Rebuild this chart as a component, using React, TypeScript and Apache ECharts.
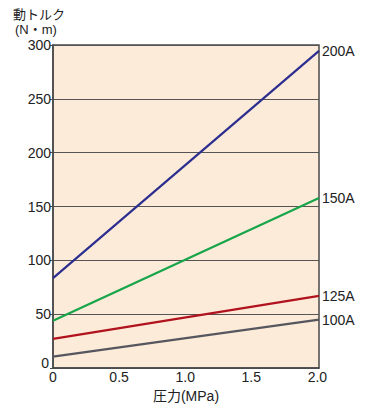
import React, { useEffect, useRef } from "react";
import * as echarts from "echarts";

const pressure = [0, 2.012];
const seriesNames = ["200A", "150A", "125A", "100A"];
const torque200A = [83.5, 294.5];
const torque150A = [44, 158];
const torque125A = [27, 67];
const torque100A = [10.5, 45];
const seriesColors = ["#2b2e8e", "#17a54a", "#b0131d", "#56565e"];
const yTicks = [0, 50, 100, 150, 200, 250, 300];
const xTickLabels = ["0", "0.5", "1.0", "1.5", "2.0"];

const FONT = "'Liberation Sans', 'Noto Sans CJK JP', sans-serif";

export default function App() {
  const ref = useRef<HTMLDivElement>(null);
  useEffect(() => {
    if (!ref.current) return;
    const chart = echarts.init(ref.current, undefined, { renderer: "svg" });
    const values = [torque200A, torque150A, torque125A, torque100A];
    chart.setOption({
      animation: false,
      grid: {
        left: 53,
        top: 45,
        right: 50,
        bottom: 43,
        show: true,
        backgroundColor: "#fdebda",
        borderColor: "#4a4a4a",
        borderWidth: 1.5,
      },
      xAxis: {
        type: "value",
        min: 0,
        max: 2.012,
        interval: 0.5,
        name: "圧力(MPa)",
        nameLocation: "middle",
        nameGap: 13,
        nameTextStyle: { fontFamily: FONT, fontSize: 14, color: "#222" },
        axisLine: { show: true, lineStyle: { color: "#4a4a4a", width: 1.5 } },
        axisTick: { show: false },
        splitLine: { show: false },
        axisLabel: {
          margin: 2,
          fontFamily: FONT,
          fontSize: 14,
          color: "#222",
          formatter: (v: number) => {
            const idx = Math.round(v / 0.5);
            if (Math.abs(v - idx * 0.5) > 1e-6) return "";
            return xTickLabels[idx] ?? "";
          },
        },
      },
      yAxis: {
        type: "value",
        min: yTicks[0],
        max: yTicks[yTicks.length - 1],
        interval: 50,
        axisLine: { show: true, lineStyle: { color: "#4a4a4a", width: 1.5 } },
        axisTick: { show: true, length: 3, lineStyle: { color: "#4a4a4a" } },
        splitLine: { show: true, lineStyle: { color: "#555", width: 1.2 } },
        axisLabel: {
          margin: 2,
          fontFamily: FONT,
          fontSize: 14,
          color: "#222",
          formatter: (v: number) => (v === 0 ? "{z|0}" : String(v)),
          rich: {
            z: { fontFamily: FONT, fontSize: 14, color: "#222", padding: [0, 2, 10, 0] },
          },
        },
      },
      graphic: [
        {
          type: "text",
          left: 13,
          top: 8,
          style: {
            text: "動トルク",
            fontFamily: FONT,
            fontSize: 13,
            fill: "#222",
          },
        },
        {
          type: "text",
          left: 15,
          top: 23,
          style: {
            text: "(N・m)",
            fontFamily: FONT,
            fontSize: 13,
            fill: "#222",
          },
        },
      ],
      series: seriesNames.map((name, i) => ({
        type: "line",
        name,
        data: pressure.map((p, j) => [p, values[i][j]]),
        showSymbol: false,
        lineStyle: { color: seriesColors[i], width: 2.2 },
        itemStyle: { color: seriesColors[i] },
        endLabel: {
          show: true,
          formatter: name,
          distance: 3,
          fontFamily: FONT,
          fontSize: 14,
          color: "#222",
        },
      })),
    });
    return () => chart.dispose();
  }, []);
  return <div ref={ref} style={{ width: 369, height: 411, position: "absolute", left: 0, top: 0 }} />;
}
